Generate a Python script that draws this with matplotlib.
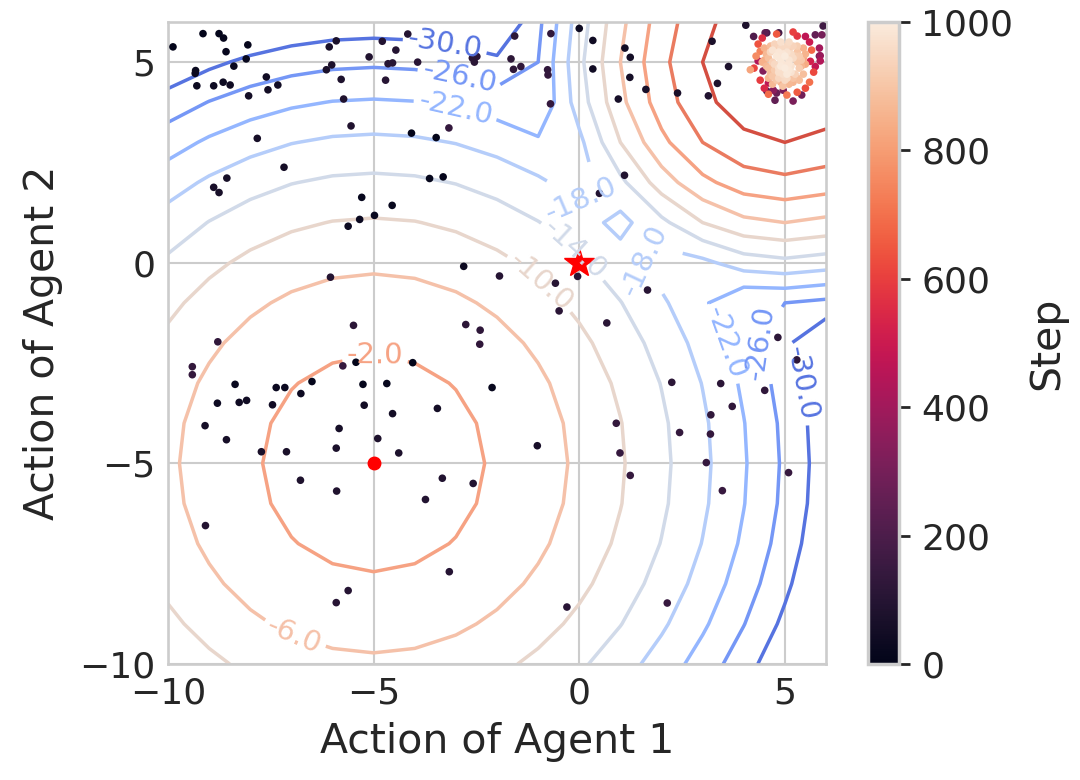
import numpy as np
import matplotlib
matplotlib.use("Agg")
import matplotlib.pyplot as plt
from matplotlib.colors import Normalize
import seaborn as sns

# payoff surface: max of two quadratic bumps
grid_a1 = np.arange(-10, 7)
grid_a2 = np.arange(-10, 7)
levels = np.linspace(-30, 10, 11)

# global optimum and local optimum of the game
global_opt = (5.0, 5.0)
local_opt = (-5.0, -5.0)
start_point = (0.0, 0.0)

# early exploration samples (dark points)
explore_x = [-9.88, -9.15, -8.76, -8.65, -8.06, -8.59, -8.10, -8.40, -9.33, -9.34,
             -9.30, -8.89, -8.66, -8.49, -7.61, -7.57, -7.33, -8.04, -7.83, -7.18,
             -8.57, -8.89, -8.76, -6.08, -5.91, -6.15, -6.02, -5.79, -5.73, -5.55,
             -5.11, -4.79, -4.46, -4.17, -4.65, -4.54, -4.71, -3.93, -2.60, -2.55,
             -2.49, -1.66, -1.57, -1.60, -1.42, -0.69, -0.77, -0.76, -0.70, -3.17,
             -4.08, -3.48, -3.31, -3.64, -5.29, -4.55, -4.98, -5.34, -5.62, -2.81,
             0.00, 0.33, 0.33, 1.11, 1.24, 1.23, 0.95, 1.62, 2.39, 3.23,
             4.05, 3.63, 3.36, 3.14, 1.10, 0.49, -6.05, -1.94, -0.58, -0.04,
             -0.49, -5.49, -2.76, -2.41, -2.42, -8.79, -9.41, -9.41, -5.75, -5.43,
             -4.05, -6.50, -5.26, -4.68, -2.12, -8.37, -7.37, -7.16, -6.77, -8.80,
             -8.27, -8.09, -7.46, -5.23, -4.54, -3.45, -9.10, -5.84, -8.58, -1.02,
             -7.73, -7.12, -5.91, -4.90, -4.39, -6.78, -5.90, -3.33, -2.58, -3.74,
             -9.09, -3.16, -5.62, -5.91, -0.30, 1.66, 0.67, 2.25, 3.44, 4.83,
             5.29, 4.51, 3.72, 3.20, 3.19, 0.90, 2.44, 0.99, 3.09, 1.24,
             5.09, 3.48, 2.14]
explore_y = [5.38, 5.71, 5.71, 5.60, 5.43, 5.26, 5.08, 4.90, 4.79, 4.72,
             4.41, 4.41, 4.50, 4.43, 4.63, 4.31, 4.43, 4.16, 3.10, 2.38,
             2.11, 1.88, 1.75, 5.38, 5.53, 4.81, 4.93, 4.57, 4.08, 3.41,
             5.13, 5.52, 5.30, 5.70, 4.96, 4.98, 4.55, 5.00, 5.10, 5.00,
             5.14, 5.08, 5.65, 4.82, 4.89, 5.71, 4.81, 4.68, 3.96, 3.36,
             3.23, 3.12, 2.14, 2.10, 1.63, 1.43, 1.18, 1.08, 0.91, -0.09,
             5.84, 5.54, 4.83, 5.35, 5.12, 4.62, 4.08, 4.32, 4.23, 5.52,
             5.92, 4.89, 4.47, 4.16, 2.18, 1.73, -0.36, -0.33, -0.51, -0.34,
             -1.20, -1.56, -1.54, -1.68, -2.03, -1.97, -2.59, -2.79, -2.57, -2.48,
             -2.49, -2.96, -3.03, -3.01, -3.11, -3.03, -3.11, -3.11, -3.26, -3.50,
             -3.48, -3.43, -3.54, -3.55, -3.76, -3.63, -4.06, -4.13, -4.41, -4.56,
             -4.71, -4.71, -4.62, -4.38, -4.74, -5.42, -5.69, -5.37, -5.50, -5.90,
             -6.55, -7.70, -8.17, -8.47, -8.58, -0.68, -1.50, -2.98, -3.01, -1.86,
             -2.42, -3.18, -3.58, -3.79, -4.27, -4.00, -4.23, -4.74, -4.98, -5.30,
             -5.23, -5.68, -8.48]
explore_step = [2, 5, 9, 12, 14, 18, 21, 25, 27, 30,
                33, 36, 38, 41, 44, 47, 50, 52, 55, 58,
                61, 63, 66, 69, 72, 74, 77, 80, 83, 85,
                88, 91, 94, 96, 99, 102, 105, 107, 110, 113,
                116, 118, 121, 124, 127, 129, 132, 135, 138, 140,
                4, 7, 11, 15, 19, 23, 26, 29, 32, 35,
                39, 42, 46, 49, 53, 56, 60, 64, 67, 71,
                75, 78, 82, 86, 89, 93, 97, 100, 104, 108,
                111, 115, 119, 122, 126, 130, 134, 137, 141, 3,
                6, 10, 13, 16, 20, 24, 28, 31, 34, 37,
                40, 43, 45, 48, 51, 54, 57, 59, 62, 65,
                68, 70, 73, 76, 79, 81, 84, 87, 90, 92,
                95, 98, 101, 103, 106, 109, 112, 114, 117, 120,
                123, 125, 128, 131, 133, 136, 139, 142, 143, 144,
                145, 146, 147]

# converged samples around the global optimum
conv_x = [4.24, 4.52, 4.85, 5.74, 5.90, 5.93, 4.35, 4.47, 5.84, 5.86,
          5.50, 4.60, 4.96, 4.72, 5.41, 5.86, 4.56, 4.80, 4.16, 5.84,
          4.56, 4.76, 5.20,
          4.35, 4.45, 5.60, 5.65, 5.70, 5.60, 4.40, 4.50, 5.05, 5.30,
          4.30, 4.25, 5.62, 4.80, 5.30, 4.60, 5.50, 4.40, 5.74, 5.20,
          4.70, 4.90, 5.10, 5.30, 4.60, 4.80, 5.00, 5.20, 5.40, 4.55,
          4.75, 4.95, 5.15, 5.35, 4.65, 4.85, 5.05, 5.25, 4.80, 5.00,
          5.20, 4.90, 5.10, 4.50, 5.50, 4.45, 5.50, 4.70, 5.35, 5.00,
          4.90, 5.10, 4.85, 5.15, 4.75, 5.30, 4.60, 5.45, 5.05, 4.95,
          4.65, 4.85, 5.05, 5.25, 4.70, 4.90, 5.10, 5.30, 4.75, 4.95,
          5.15, 5.30, 4.85, 5.05, 4.60, 5.40, 4.55, 5.45, 4.80, 5.20,
          4.95, 5.10, 4.70, 5.20, 4.65, 5.35, 4.90, 5.10, 4.50, 5.45]
conv_y = [5.64, 5.73, 5.73, 5.68, 5.68, 5.90, 5.03, 4.78, 5.15, 5.03,
          5.64, 4.48, 4.30, 4.30, 4.18, 5.16, 4.28, 4.23, 4.81, 5.35,
          5.73, 4.05, 4.03,
          5.45, 5.60, 5.50, 5.30, 4.75, 4.50, 4.55, 4.35, 4.18, 4.25,
          5.15, 4.85, 5.02, 5.70, 5.65, 4.20, 4.35, 5.27, 4.89, 5.75,
          5.30, 5.35, 5.30, 5.25, 5.10, 5.15, 5.15, 5.10, 5.05, 4.90,
          4.95, 4.95, 4.90, 4.85, 4.70, 4.75, 4.70, 4.70, 4.55, 4.55,
          4.50, 5.50, 5.50, 5.35, 5.20, 5.00, 4.95, 4.45, 4.55, 4.85,
          5.05, 5.05, 4.85, 5.20, 5.45, 5.40, 4.60, 4.70, 5.40, 4.40,
          5.25, 5.25, 5.25, 5.15, 5.00, 4.90, 4.95, 5.00, 4.80, 4.70,
          4.75, 4.60, 4.60, 4.60, 4.85, 4.90, 5.20, 5.35, 5.40, 5.40,
          5.20, 4.80, 4.65, 4.60, 5.40, 5.15, 4.50, 4.45, 5.05, 5.10]
conv_step = [210, 240, 180, 260, 300, 170, 430, 330, 280, 440,
             470, 460, 320, 350, 290, 380, 230, 270, 820, 410,
             200, 250, 310,
             640, 560, 500, 680, 620, 700, 590, 540, 720, 660,
             760, 610, 520, 650, 580, 690, 630, 740, 480, 600,
             980, 950, 930, 900, 890, 990, 1000, 960, 910, 870,
             950, 985, 975, 920, 880, 965, 995, 935, 905, 955,
             860, 970, 960, 850, 855, 845, 835, 870, 880, 998,
             990, 982, 970, 958, 940, 925, 865, 885, 952, 895,
             945, 985, 975, 925, 930, 996, 988, 910, 915, 968,
             978, 875, 948, 958, 885, 862, 870, 852, 928, 938,
             986, 992, 905, 898, 878, 918, 858, 868, 842, 832]

a1, a2 = np.meshgrid(grid_a1, grid_a2)
f1 = 0.8 * (-(a1 + 5) ** 2 / 3 - (a2 + 5) ** 2 / 3)
f2 = 1.0 * (-(a1 - 5) ** 2 - (a2 - 5) ** 2) + 10
reward = np.maximum(f1, f2)

sns.set_style("whitegrid")
plt.rcParams["font.family"] = ["DejaVu Sans"]
plt.rcParams["axes.edgecolor"] = ".8"
plt.rcParams["axes.linewidth"] = 1.9
plt.rcParams["grid.linewidth"] = 1.5
plt.rcParams["grid.color"] = ".8"
plt.rcParams["text.color"] = ".15"
plt.rcParams["axes.labelcolor"] = ".15"
plt.rcParams["xtick.color"] = ".15"
plt.rcParams["ytick.color"] = ".15"

fig = plt.figure(figsize=(10.8, 7.8), dpi=100)
ax = fig.add_axes([0.1556, 0.1487, 0.6092, 0.8231])
cax = fig.add_axes([0.8037, 0.1487, 0.0287, 0.8231])

cs = ax.contour(a1, a2, reward, levels=levels, cmap="coolwarm",
                norm=Normalize(-34, 10), linewidths=2.5)
label_spots = [(-3.26, 5.48), (-2.9, 4.68), (-3.0, 3.9), (0.02, 1.6),
               (-0.2, 0.22), (-0.95, -0.5), (-4.96, -2.28), (-6.9, -9.2),
               (1.48, 0.22), (3.6, -1.98), (4.33, -2.0), (5.45, -3.0)]
ax.clabel(cs, levels=cs.levels[:8], inline=True, fmt="%1.1f", fontsize=21,
          manual=label_spots)

ax.plot(local_opt[0], local_opt[1], "o", color="red", markersize=9, zorder=2.5)
ax.plot(start_point[0], start_point[1], "*", color="red", markersize=22,
        zorder=2.5)

xs = np.array(explore_x + conv_x)
ys = np.array(explore_y + conv_y)
steps = np.array(explore_step + conv_step)
order = np.argsort(steps)
sc = ax.scatter(xs[order], ys[order], c=steps[order], cmap="rocket",
                vmin=0, vmax=1000, s=30, linewidths=0, zorder=3)

ax.set_xlim(-10, 6)
ax.set_ylim(-10, 6)
ax.set_xticks([-10, -5, 0, 5])
ax.set_yticks([-10, -5, 0, 5])
ax.tick_params(labelsize=26, length=0, pad=9)
ax.set_xlabel("Action of Agent 1", fontsize=29.5, labelpad=8)
ax.set_ylabel("Action of Agent 2", fontsize=29.5, labelpad=12)

cb = fig.colorbar(sc, cax=cax)
cb.set_ticks([0, 200, 400, 600, 800, 1000])
cb.ax.tick_params(labelsize=26, length=8, width=2, color=".15", pad=8)
cb.outline.set_edgecolor(".8")
cb.outline.set_linewidth(2.5)
cb.set_label("Step", fontsize=29.5, labelpad=10)

fig.savefig("out.png", dpi=100)
